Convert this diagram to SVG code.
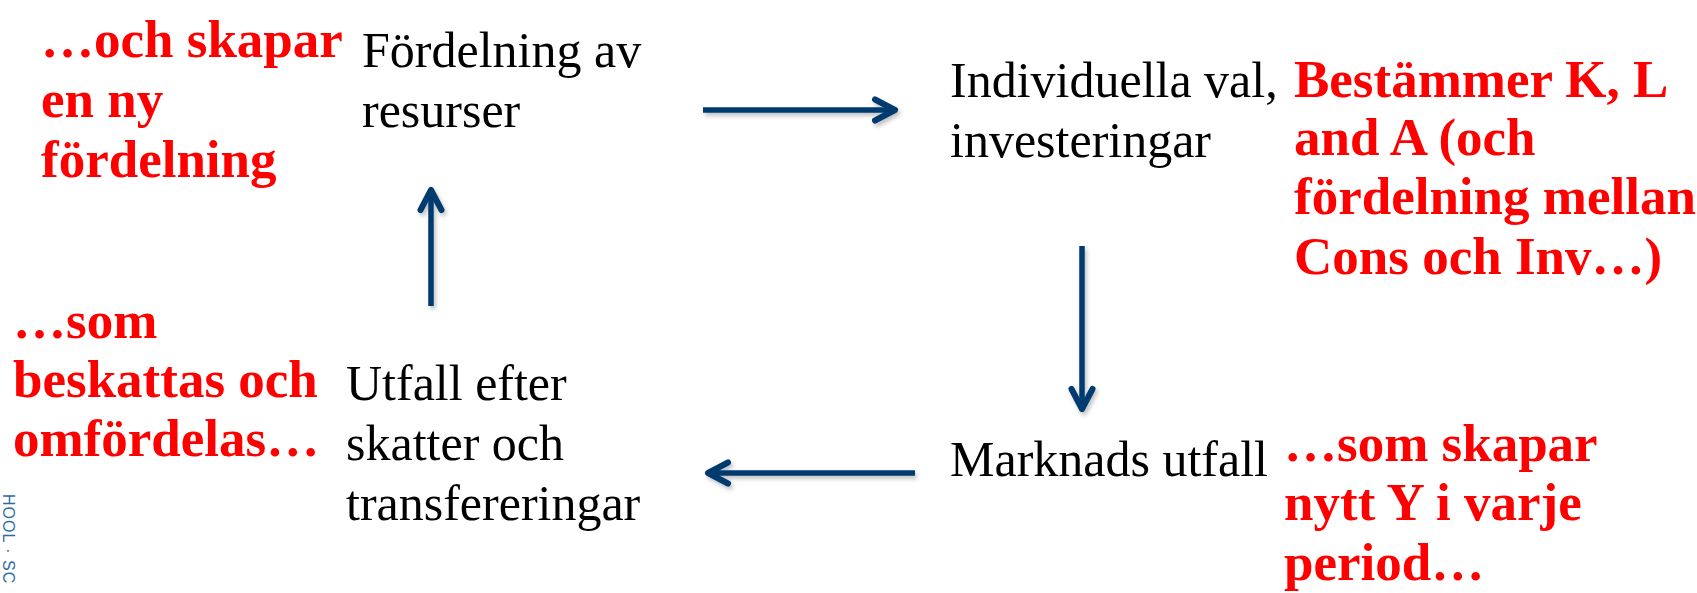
<svg xmlns="http://www.w3.org/2000/svg" width="1697" height="593" viewBox="0 0 1697 593">
<style>
.n{font-family:"Liberation Serif","Times New Roman",serif;font-size:50px;fill:#000}
.r{font-family:"Liberation Serif","Times New Roman",serif;font-size:53px;font-weight:bold;fill:#ff0000}
.c{fill:none;stroke:#003a70;stroke-width:5.5;marker-end:url(#ah);filter:url(#sh)}
.logo{font-family:"Liberation Sans",Arial,sans-serif;font-size:16px;fill:#2c6aa6;letter-spacing:1px}
</style>
<defs>
<marker id="ah" viewBox="-26 -15 32 30" refX="0" refY="0" markerWidth="32" markerHeight="30" markerUnits="userSpaceOnUse" orient="auto">
<path d="M-20,-10.5 L0,0 L-20,10.5" fill="none" stroke="#003a70" stroke-width="6" stroke-linecap="round" stroke-linejoin="round"/>
</marker>
<filter id="sh" filterUnits="userSpaceOnUse" x="0" y="0" width="1697" height="593">
<feDropShadow dx="2" dy="3" stdDeviation="2" flood-color="#000" flood-opacity="0.25"/>
</filter>
</defs>
<rect width="1697" height="593" fill="#fff"/>
<text class="logo" transform="translate(3,494) rotate(90)">HOOL · SC</text>
<g id="connectors">
<path class="c" d="M703,110 L895,110"/>
<path class="c" d="M1082,246 L1082,409"/>
<path class="c" d="M915,473 L708,473"/>
<path class="c" d="M431,306 L431,190"/>
</g>
<g id="fordelning">
<text class="n" x="362" y="67">Fördelning av</text>
<text class="n" x="362" y="127">resurser</text>
</g>
<g id="individuella">
<text class="n" x="950" y="97">Individuella val,</text>
<text class="n" x="950" y="157">investeringar</text>
</g>
<g id="marknads">
<text class="n" x="950" y="476">Marknads utfall</text>
</g>
<g id="utfall">
<text class="n" x="346" y="400">Utfall efter</text>
<text class="n" x="346" y="460">skatter och</text>
<text class="n" x="346" y="520">transfereringar</text>
</g>
<g id="note-skapar">
<text class="r" x="41" y="57">…och skapar</text>
<text class="r" x="41" y="117">en ny</text>
<text class="r" x="41" y="177">fördelning</text>
</g>
<g id="note-bestammer">
<text class="r" x="1294" y="97">Bestämmer K, L</text>
<text class="r" x="1294" y="155">and A (och</text>
<text class="r" x="1294" y="214">fördelning mellan</text>
<text class="r" x="1294" y="274">Cons och Inv…)</text>
</g>
<g id="note-beskattas">
<text class="r" x="13" y="338">…som</text>
<text class="r" x="13" y="397">beskattas och</text>
<text class="r" x="13" y="456">omfördelas…</text>
</g>
<g id="note-ny-y">
<text class="r" x="1284" y="461">…som skapar</text>
<text class="r" x="1284" y="520">nytt Y i varje</text>
<text class="r" x="1284" y="580">period…</text>
</g>
</svg>
